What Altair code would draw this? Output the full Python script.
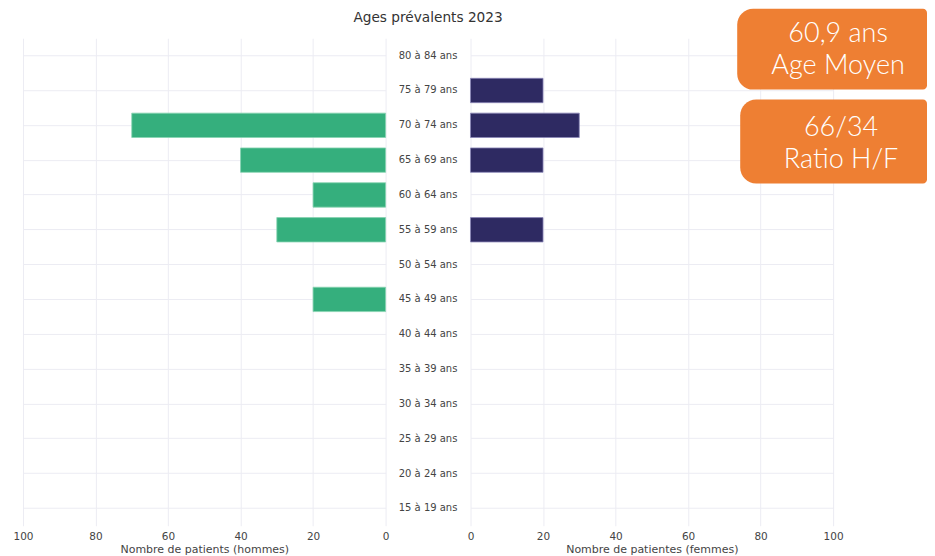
import altair as alt
import pandas as pd

ages = ["80 à 84 ans", "75 à 79 ans", "70 à 74 ans", "65 à 69 ans", "60 à 64 ans",
        "55 à 59 ans", "50 à 54 ans", "45 à 49 ans", "40 à 44 ans", "35 à 39 ans",
        "30 à 34 ans", "25 à 29 ans", "20 à 24 ans", "15 à 19 ans"]
hommes = [0, 0, 70, 40, 20, 30, 0, 20, 0, 0, 0, 0, 0, 0]
femmes = [0, 20, 30, 20, 0, 20, 0, 0, 0, 0, 0, 0, 0, 0]
ticks = [0, 20, 40, 60, 80, 100]
TITLE = "Ages prévalents 2023"
box1 = ["60,9 ans", "Age Moyen"]
box2 = ["66/34", "Ratio H/F"]

GREEN = "#35AF7D"
NAVY = "#2E2A62"
ORANGE = "#EE7F33"
GRID = "#ECECF3"
TXT = "#444444"
FONT = "DejaVu Sans"

W = 363
H = 488
MID = 85

df_h = pd.DataFrame({"age": ages, "val": hommes})
df_h = df_h[df_h["val"] > 0]
df_f = pd.DataFrame({"age": ages, "val": femmes})
df_f = df_f[df_f["val"] > 0]
df_mid = pd.DataFrame({"age": ages})

yscale = alt.Scale(domain=ages, paddingInner=0.3, paddingOuter=0.15)
yaxis = alt.Axis(labels=False, ticks=False, domain=False, title=None, grid=True,
                 bandPosition=0.5, gridColor=GRID, gridWidth=1)


def xaxis(title):
    return alt.Axis(values=ticks, title=title, grid=True, gridColor=GRID, ticks=False,
                    domain=False, labelFont=FONT, labelFontSize=10.5, labelColor=TXT,
                    labelPadding=6, titleFont=FONT, titleFontSize=11, titleColor=TXT,
                    titleFontWeight="normal", titlePadding=1, labelFlush=False)


left = alt.Chart(df_h).mark_bar(color=GREEN, stroke="#86d3b1", strokeWidth=0.8).encode(
    x=alt.X("val:Q", scale=alt.Scale(domain=[0, 100], reverse=True),
            axis=xaxis("Nombre de patients (hommes)")),
    y=alt.Y("age:N", scale=yscale, axis=yaxis, sort=ages),
).properties(width=W, height=H)

mid_labels = alt.Chart(df_mid).mark_text(font=FONT, fontSize=10, color=TXT).encode(
    y=alt.Y("age:N", scale=yscale, axis=None, sort=ages),
    x=alt.value(MID / 2),
    text="age:N",
)
mid_title = alt.Chart(pd.DataFrame({"t": [TITLE]})).mark_text(
    font=FONT, fontSize=13.7, color="#333333", baseline="middle").encode(
    x=alt.value(MID / 2), y=alt.value(-20.6), text="t:N")
mid = alt.layer(mid_labels, mid_title).properties(width=MID, height=H)

right_bars = alt.Chart(df_f).mark_bar(color=NAVY, stroke="#8a87b8", strokeWidth=0.8).encode(
    x=alt.X("val:Q", scale=alt.Scale(domain=[0, 100]),
            axis=xaxis("Nombre de patientes (femmes)")),
    y=alt.Y("age:N", scale=yscale, axis=yaxis, sort=ages),
)

one = pd.DataFrame({"k": [0]})


def rect(x, x2, y, y2):
    return alt.Chart(one).mark_rect(color=ORANGE, cornerRadiusTopLeft=16,
                                    cornerRadiusBottomLeft=16, cornerRadiusTopRight=4,
                                    cornerRadiusBottomRight=4).encode(
        x=alt.value(x), x2=alt.value(x2), y=alt.value(y), y2=alt.value(y2))


def label(text, x, y):
    return alt.Chart(pd.DataFrame({"t": [text]})).mark_text(
        font="Lato", fontWeight=300, fontSize=27, color="white", baseline="middle").encode(
        x=alt.value(x), y=alt.value(y), text="t:N")


right = alt.layer(
    right_bars,
    rect(267, 457, -29.6, 51.4),
    label(box1[0], 368, -4.6),
    label(box1[1], 368, 27.4),
    rect(270, 457, 61.4, 145.4),
    label(box2[0], 371, 89.4),
    label(box2[1], 371, 121.4),
).properties(width=W, height=H)

chart = alt.hconcat(left, mid, right, spacing=0, bounds="flush").properties(
    padding={"left": 4, "top": 0, "right": 0, "bottom": 0}
).configure(background="white").configure_view(stroke=None)

chart.save("out.html", embed_options={"renderer": "svg", "actions": False})
